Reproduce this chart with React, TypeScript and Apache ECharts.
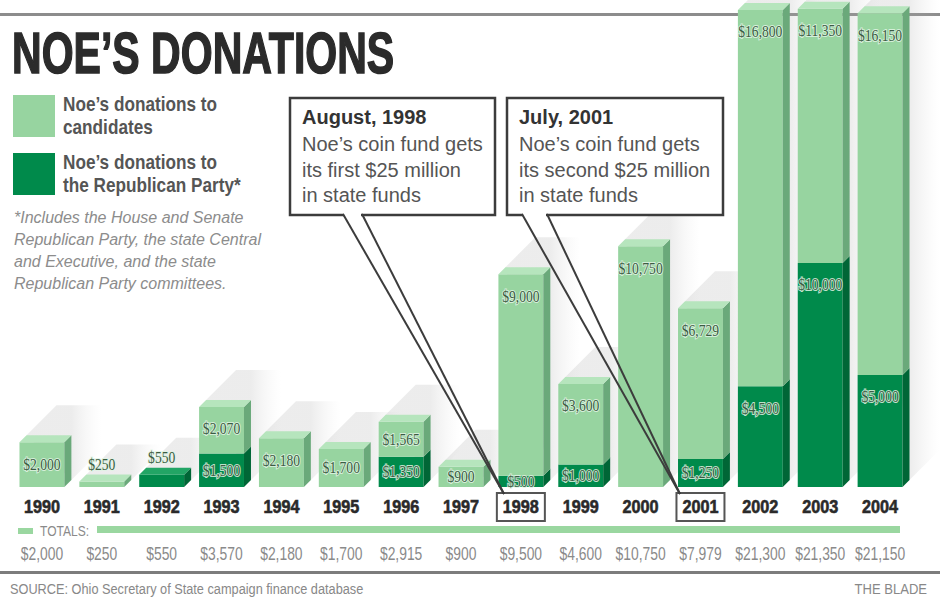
import { useEffect, useRef } from 'react';
import * as echarts from 'echarts';

const years = ['1990', '1991', '1992', '1993', '1994', '1995', '1996', '1997', '1998', '1999', '2000', '2001', '2002', '2003', '2004'];
const candidates = [2000, 250, 0, 2070, 2180, 1700, 1565, 900, 9000, 3600, 10750, 6729, 16800, 11350, 16150];
const party = [0, 0, 550, 1500, 0, 0, 1350, 0, 500, 1000, 0, 1250, 4500, 10000, 5000];
const totals = [2000, 250, 550, 3570, 2180, 1700, 2915, 900, 9500, 4600, 10750, 7979, 21300, 21350, 21150];
const boxedYears = ['1998', '2001'];
const yMax = 21700;

const legendItems = [
  { lines: ['Noe’s donations to', 'candidates'], color: '#97d4a0' },
  { lines: ['Noe’s donations to', 'the Republican Party*'], color: '#008a4b' },
];
const footnote = [
  '*Includes the House and Senate',
  'Republican Party, the state Central',
  'and Executive, and the state',
  'Republican Party committees.',
];
const notes = [
  { head: 'August, 1998', body: ['Noe’s coin fund gets', 'its first $25 million', 'in state funds'] },
  { head: 'July, 2001', body: ['Noe’s coin fund gets', 'its second $25 million', 'in state funds'] },
];

const fmt = (v: number) => '$' + v.toLocaleString('en-US');

const COL = {
  lightFront: '#97d4a0',
  lightSide: '#6aa97a',
  lightTop: '#b6e5bd',
  darkFront: '#008a4b',
  darkSide: '#006636',
  darkTop: '#22a565',
};

const SANS = 'Liberation Sans, Arial, sans-serif';
const SERIF = 'Liberation Serif, Times New Roman, serif';

function renderItem(params: any, api: any) {
  const i = api.value(0);
  const band = api.size([1, 0])[0];
  const w = band * 0.75;
  const d = 7;
  const base = api.coord([i, 0]);
  const cx = base[0];
  const x0 = cx - w / 2;
  const x1 = cx + w / 2;
  const yBase = base[1];
  const p = party[i];
  const c = candidates[i];
  const yP = api.coord([i, p])[1];
  const yT = api.coord([i, p + c])[1];
  const children: any[] = [];

  const S = 30;
  children.push({
    type: 'polygon',
    z2: 0,
    shape: {
      points: [
        [x0 + d, yT - d],
        [x0 + d + S, yT - d - S],
        [x1 + d + S, yT - d - S],
        [x1 + d + S, yBase - d - S],
        [x1 + d, yBase - d],
      ],
    },
    style: {
      fill: new echarts.graphic.LinearGradient(0, 0, 1, 0, [
        { offset: 0, color: 'rgba(170,170,170,0.22)' },
        { offset: w / (w + S), color: 'rgba(170,170,170,0.22)' },
        { offset: 1, color: 'rgba(210,210,210,0)' },
      ]),
    },
  });

  const seg = (yBot: number, yTop: number, front: string, side: string, top: string, isTop: boolean) => {
    if (yBot - yTop <= 0) return;
    children.push({ type: 'rect', z2: 1, shape: { x: x0, y: yTop, width: w, height: yBot - yTop }, style: { fill: front } });
    children.push({
      type: 'polygon',
      z2: 1,
      shape: { points: [[x1, yBot], [x1 + d, yBot - d], [x1 + d, yTop - d], [x1, yTop]] },
      style: { fill: side },
    });
    if (isTop) {
      children.push({
        type: 'polygon',
        z2: 1,
        shape: { points: [[x0, yTop], [x0 + d, yTop - d], [x1 + d, yTop - d], [x1, yTop]] },
        style: { fill: top },
      });
    }
  };

  const label = (v: number, yBot: number, yTop: number, isTop: boolean) => {
    if (!v) return;
    const h = yBot - yTop;
    const y = h < 14 && isTop ? yTop - d - 10 : Math.min(yTop + 22, (yBot + yTop) / 2);
    children.push({
      type: 'text',
      z2: 2,
      x: cx,
      y,
      scaleX: 0.85,
      style: {
        text: fmt(v),
        fontFamily: SERIF,
        fontSize: 16,
        fill: '#3b5c43',
        stroke: 'rgba(225,245,228,0.85)',
        lineWidth: 2,
        strokeFirst: true,
        align: 'center',
        verticalAlign: 'middle',
      },
    });
  };

  seg(yBase, yP, COL.darkFront, COL.darkSide, COL.darkTop, c === 0);
  seg(yP, yT, COL.lightFront, COL.lightSide, COL.lightTop, true);
  label(p, yBase, yP, c === 0);
  label(c, yP, yT, true);

  const yearY = yBase + 20;
  children.push({
    type: 'text',
    z2: 2,
    x: cx,
    y: yearY,
    scaleX: 0.9,
    style: {
      text: years[i],
      fontFamily: SANS,
      fontWeight: 'bold',
      fontSize: 18,
      fill: '#2a2a2a',
      stroke: '#2a2a2a',
      lineWidth: 0.6,
      align: 'center',
      verticalAlign: 'middle',
    },
  });
  if (boxedYears.indexOf(years[i]) >= 0) {
    children.push({
      type: 'rect',
      z2: 2,
      shape: { x: cx - 24, y: yearY - 14, width: 48, height: 28 },
      style: { fill: 'none', stroke: '#555', lineWidth: 2 },
    });
  }
  children.push({
    type: 'text',
    z2: 2,
    x: cx,
    y: yBase + 66,
    scaleX: 0.77,
    style: {
      text: fmt(totals[i]),
      fontFamily: SANS,
      fontSize: 18,
      fill: '#8a8a8a',
      align: 'center',
      verticalAlign: 'middle',
    },
  });

  return { type: 'group', children };
}

function buildGraphics() {
  const g: any[] = [];
  g.push({ type: 'rect', z: 0, shape: { x: 0, y: 13, width: 940, height: 3 }, style: { fill: '#8c8c8c' } });
  g.push({
    type: 'text',
    z: 5,
    x: 12,
    y: 53,
    scaleX: 0.72,
    style: {
      text: 'NOE’S DONATIONS',
      fontFamily: SANS,
      fontWeight: 'bold',
      fontSize: 57,
      fill: '#2b2b2b',
      stroke: '#2b2b2b',
      lineWidth: 1.5,
      verticalAlign: 'middle',
    },
  });
  legendItems.forEach((it, k) => {
    const top = 95 + k * 58;
    g.push({ type: 'rect', z: 5, shape: { x: 13, y: top, width: 42, height: 42 }, style: { fill: it.color } });
    it.lines.forEach((ln, j) => {
      g.push({
        type: 'text',
        z: 5,
        x: 63,
        y: top + 9 + j * 23,
        scaleX: 0.86,
        style: { text: ln, fontFamily: SANS, fontWeight: 'bold', fontSize: 20, fill: '#555', verticalAlign: 'middle' },
      });
    });
  });
  footnote.forEach((ln, j) => {
    g.push({
      type: 'text',
      z: 5,
      x: 14,
      y: 217 + j * 22,
      style: { text: ln, fontFamily: SANS, fontStyle: 'italic', fontSize: 16, fill: '#8c8c8c', verticalAlign: 'middle' },
    });
  });

  const boxes = [
    { x: 290, w: 205, open: [343, 362], tip: [504, 494] },
    { x: 507, w: 216, open: [522, 547], tip: [680, 494] },
  ];
  boxes.forEach((b, k) => {
    g.push({
      type: 'rect',
      z: 100,
      shape: { x: b.x, y: 98, width: b.w, height: 117 },
      style: { fill: '#fff', stroke: '#3c3c3c', lineWidth: 2.5 },
    });
    g.push({
      type: 'rect',
      z: 101,
      shape: { x: b.open[0] + 1, y: 212, width: b.open[1] - b.open[0] - 2, height: 6 },
      style: { fill: '#fff' },
    });
    b.open.forEach((ox) => {
      g.push({
        type: 'line',
        z: 102,
        shape: { x1: ox, y1: 214, x2: b.tip[0], y2: b.tip[1] },
        style: { stroke: '#3c3c3c', lineWidth: 2 },
      });
    });
    const n = notes[k];
    g.push({
      type: 'text',
      z: 102,
      x: b.x + 12,
      y: 117,
      style: { text: n.head, fontFamily: SANS, fontWeight: 'bold', fontSize: 20, fill: '#333', verticalAlign: 'middle' },
    });
    n.body.forEach((ln, j) => {
      g.push({
        type: 'text',
        z: 102,
        x: b.x + 12,
        y: 144 + j * 25.5,
        style: { text: ln, fontFamily: SANS, fontSize: 20, fill: '#555', verticalAlign: 'middle' },
      });
    });
  });

  g.push({ type: 'rect', z: 5, shape: { x: 18, y: 528, width: 15, height: 6 }, style: { fill: '#9ad7a0' } });
  g.push({
    type: 'text',
    z: 5,
    x: 40,
    y: 531,
    scaleX: 0.86,
    style: { text: 'TOTALS:', fontFamily: SANS, fontSize: 14, fill: '#8a8a8a', verticalAlign: 'middle' },
  });
  g.push({ type: 'rect', z: 5, shape: { x: 97, y: 526, width: 803, height: 7 }, style: { fill: '#9ad7a0' } });
  g.push({ type: 'rect', z: 5, shape: { x: 0, y: 571, width: 940, height: 3 }, style: { fill: '#7c7c7c' } });
  g.push({
    type: 'text',
    z: 5,
    x: 10,
    y: 589,
    scaleX: 0.85,
    style: {
      text: 'SOURCE: Ohio Secretary of State campaign finance database',
      fontFamily: SANS,
      fontSize: 15,
      fill: '#888',
      verticalAlign: 'middle',
    },
  });
  g.push({
    type: 'text',
    z: 5,
    x: 927,
    y: 589,
    scaleX: 0.87,
    style: { text: 'THE BLADE', fontFamily: SANS, fontSize: 15, fill: '#888', align: 'right', verticalAlign: 'middle' },
  });
  return g;
}

export default function App() {
  const ref = useRef<HTMLDivElement>(null);
  useEffect(() => {
    if (!ref.current) return;
    const chart = echarts.init(ref.current, undefined, { renderer: 'svg' });
    chart.setOption({
      animation: false,
      backgroundColor: '#ffffff',
      grid: { left: 12, right: 30, top: 1, bottom: 113 },
      xAxis: { type: 'category', data: years, show: false },
      yAxis: { type: 'value', min: 0, max: yMax, show: false },
      series: [
        {
          type: 'custom',
          renderItem,
          clip: false,
          data: years.map((_, i) => [i, totals[i]]),
          encode: { x: 0, y: 1 },
        },
      ],
      graphic: buildGraphics(),
    });
    return () => chart.dispose();
  }, []);
  return <div ref={ref} style={{ position: 'fixed', left: 0, top: 0, width: 940, height: 600, background: '#fff' }} />;
}
